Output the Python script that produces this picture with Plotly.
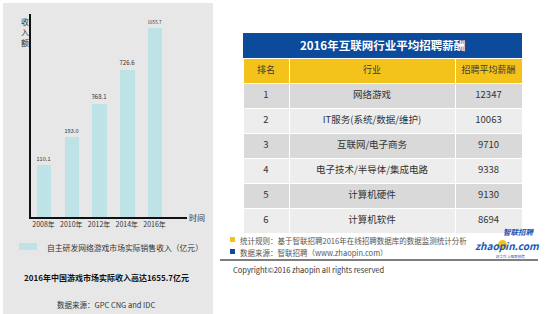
import plotly.graph_objects as go

W, H = 550, 314
FONT = "Noto Sans CJK SC"

# ---- data ----
years = ["2008年", "2010年", "2012年", "2014年", "2016年"]
revenue = [110.1, 193.0, 368.1, 726.6, 1655.7]
revenue_labels = ["110.1", "193.0", "368.1", "726.6", "1655.7"]

rank = ["1", "2", "3", "4", "5", "6"]
industry = ["网络游戏", "IT服务(系统/数据/维护)", "互联网/电子商务",
            "电子技术/半导体/集成电路", "计算机硬件", "计算机软件"]
salary = [12347, 10063, 9710, 9338, 9130, 8694]
table_header = ["排名", "行业", "招聘平均薪酬"]


def px(x):
    return x / W


def py(y):
    return 1 - y / H


fig = go.Figure()

fig.add_trace(go.Bar(
    x=years, y=revenue, text=revenue_labels, textposition="outside",
    textfont=dict(size=7.5, color="#333333", family=FONT),
    marker=dict(color="#bde3e6", line=dict(width=0)),
    width=0.52, cliponaxis=False, showlegend=False, hoverinfo="skip",
))

n = len(rank)
row_fill = ["#d9d9d9" if i % 2 == 0 else "#ededed" for i in range(n)]
fig.add_trace(go.Table(
    domain=dict(x=[px(243), px(522)], y=[py(236), py(58)]),
    columnwidth=[46, 166, 67],
    header=dict(values=table_header, fill_color="#f3c31b",
                line=dict(color="white", width=1), height=25,
                font=dict(size=9, color="#3a3a3a", family=FONT), align="center"),
    cells=dict(values=[rank, industry, salary], fill_color=[row_fill] * 3,
               line=dict(color="white", width=1), height=25,
               font=dict(size=9.5, color="#333333", family=FONT), align="center"),
))

shapes = []
annotations = []

# left grey panel
shapes.append(dict(type="rect", xref="paper", yref="paper", x0=px(3), x1=px(213),
                   y0=0, y1=py(3), fillcolor="#e7e7e7", line=dict(width=0), layer="below"))
# legend swatch
shapes.append(dict(type="rect", xref="paper", yref="paper", x0=px(19), x1=px(37),
                   y0=py(250), y1=py(243), fillcolor="#bde3e6", line=dict(width=0)))
# table title box
shapes.append(dict(type="rect", xref="paper", yref="paper", x0=px(243), x1=px(522),
                   y0=py(58), y1=py(33), fillcolor="#0c4a9c", line=dict(width=0)))
# footnote squares
shapes.append(dict(type="rect", xref="paper", yref="paper", x0=px(230), x1=px(235),
                   y0=py(242), y1=py(237), fillcolor="#f3c31b", line=dict(width=0)))
shapes.append(dict(type="rect", xref="paper", yref="paper", x0=px(230), x1=px(235),
                   y0=py(254), y1=py(249), fillcolor="#0c4a9c", line=dict(width=0)))
# separator line
shapes.append(dict(type="line", xref="paper", yref="paper", x0=px(220), x1=px(538),
                   y0=py(260), y1=py(260), line=dict(color="#555555", width=1.5)))
# logo dot
shapes.append(dict(type="circle", xref="paper", yref="paper", x0=px(498), x1=px(507),
                   y0=py(250), y1=py(240), fillcolor="#f3c31b", line=dict(width=0)))


def ann(x, y, text, size, color="#333333", xanchor="left", bold=False, **kw):
    if bold:
        text = "<b>" + text + "</b>"
    annotations.append(dict(x=px(x), y=py(y), xref="paper", yref="paper", text=text,
                            showarrow=False, xanchor=xanchor, yanchor="middle",
                            font=dict(size=size, color=color, family=FONT), **kw))


ann(25, 32, "收<br>入<br>额", 8, "#333333", xanchor="center")
ann(187, 217, "时间", 8, "#333333")
ann(45, 247, "自主研发网络游戏市场实际销售收入（亿元）", 7.8, "#333333")
ann(106, 277, "2016年中国游戏市场实际收入高达1655.7亿元", 8, "#111111", xanchor="center", bold=True)
ann(106, 304, "数据来源：GPC CNG and IDC", 7.5, "#333333", xanchor="center")

ann(382, 45, "2016年互联网行业平均招聘薪酬", 11.5, "white", xanchor="center", bold=True)
ann(238, 240, "统计规则：基于智联招聘2016年在线招聘数据库的数据监测统计分析", 7.5, "#555555")
ann(238, 252, "数据来源：智联招聘（www.zhaopin.com）", 7.5, "#555555")
ann(231, 269, "Copyright©2016 zhaopin all rights reserved", 7.5, "#333333")

ann(519, 232, "<i>智联招聘</i>", 7.5, "#1a56b8", xanchor="center", bold=True)
ann(507, 245, "<i>zhaopin.com</i>", 10, "#1a56b8", xanchor="center", bold=True)
ann(510, 256, "好工作 上智联招聘", 3.5, "#1a56b8", xanchor="center")

fig.update_layout(
    width=W, height=H, margin=dict(l=0, r=0, t=0, b=0),
    paper_bgcolor="white", plot_bgcolor="rgba(0,0,0,0)",
    shapes=shapes, annotations=annotations, showlegend=False,
    xaxis=dict(domain=[px(30.5), px(187)], range=[-0.47, 5.17], type="category",
               showline=True, linecolor="#111111", linewidth=1.5, ticks="",
               showgrid=False, zeroline=False,
               tickfont=dict(size=7, color="#333333", family=FONT)),
    yaxis=dict(domain=[py(217), py(14)], type="log", range=[1.598, 3.342],
               showline=True, linecolor="#111111", linewidth=1.5, ticks="",
               showticklabels=False, showgrid=False, zeroline=False),
    bargap=0,
)

fig.write_html("out.html")
